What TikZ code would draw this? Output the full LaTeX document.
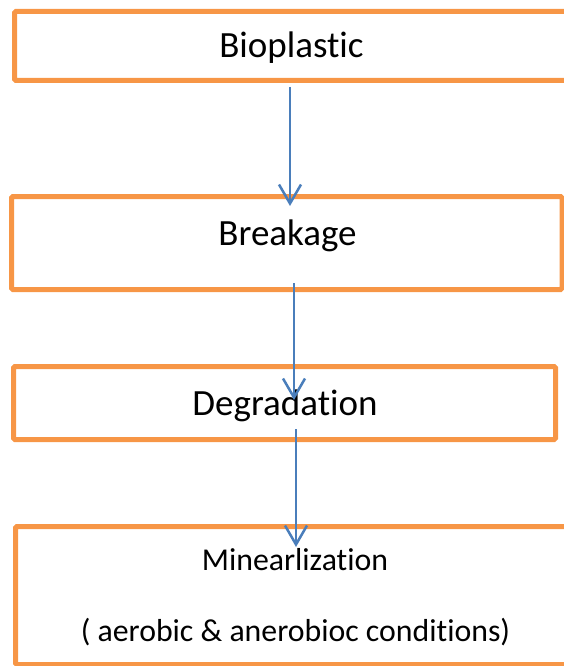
\documentclass[tikz,border=0pt]{standalone}
\usepackage{fontspec}
\setmainfont{Carlito}[Ligatures=NoCommon]
\usetikzlibrary{arrows.meta}
\definecolor{boxorange}{HTML}{F79646}
\definecolor{arrowblue}{HTML}{4A7EBB}
\begin{document}
\begin{tikzpicture}[x=1pt,y=-1pt,
  stagebox/.style={draw=boxorange, line width=5pt, rounded corners=1.5pt, inner sep=0pt, rectangle},
  biglabel/.style={anchor=base, inner sep=0pt, font=\fontsize{37}{40}\selectfont},
  smalllabel/.style={anchor=base, inner sep=0pt, font=\fontsize{31.8}{36}\selectfont},
  flow/.style={draw=arrowblue, line width=2.5pt, -{Straight Barb[length=19pt,width=22pt,line width=2.5pt]}}]
\useasboundingbox (0,0) rectangle (564,666);
\clip (0,0) rectangle (564,666);
\node[stagebox, minimum width=553.5pt, minimum height=69pt] (b1) at (291.25,46) {};
\node[stagebox, minimum width=550.5pt, minimum height=93pt] (b2) at (286.75,243) {};
\node[stagebox, minimum width=542pt, minimum height=73pt] (b3) at (284.5,403) {};
\node[stagebox, minimum width=559.5pt, minimum height=138pt] (b4) at (295.25,595.5) {};
\node[biglabel] (t1) at (291.5,58) {Bioplastic};
\node[biglabel] (t2) at (287.5,245) {Breakage};
\node[biglabel] (t3) at (285,415) {Degradation};
\node[smalllabel] (t4) at (295,570) {Minearlization};
\node[smalllabel] (t5) at (295.5,641) {( aerobic \& anerobioc conditions)};
\coordinate (a1s) at (290,87);
\coordinate (a1e) at (290,206);
\coordinate (a2s) at (294,283);
\coordinate (a2e) at (294,400);
\coordinate (a3s) at (296,429);
\coordinate (a3e) at (296,547);
\draw[flow] (a1s) -- (a1e);
\draw[flow] (a2s) -- (a2e);
\draw[flow] (a3s) -- (a3e);
\end{tikzpicture}
\end{document}
